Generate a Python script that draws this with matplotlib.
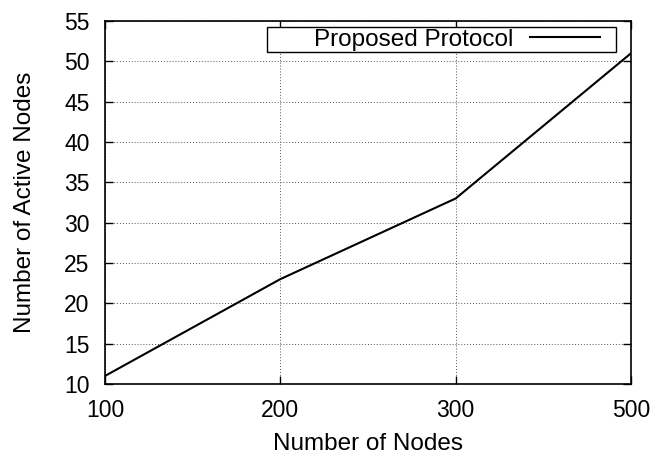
import matplotlib
matplotlib.use("Agg")
import matplotlib.pyplot as plt
from matplotlib.patches import Rectangle

# data
node_labels = ["100", "200", "300", "500"]
active_nodes = [11, 23, 33, 51]
series_name = "Proposed Protocol"

plt.rcParams["font.family"] = ["Liberation Sans", "DejaVu Sans"]

fig = plt.figure(figsize=(6.51, 4.54), dpi=100)
ax = fig.add_axes([0.1613, 0.1542, 0.808, 0.7996])

xs = list(range(len(node_labels)))
ax.plot(xs, active_nodes, color="black", linewidth=1.5, label=series_name)

ax.set_xlim(0, len(node_labels) - 1)
ax.set_ylim(10, 55)
ax.set_xticks(xs)
ax.set_xticklabels(node_labels)
ax.set_yticks(range(10, 56, 5))

ax.tick_params(direction="in", length=6, width=1, labelsize=16.5,
               top=True, right=True)
ax.tick_params(axis="x", pad=11)
ax.tick_params(axis="y", pad=11)
for sp in ax.spines.values():
    sp.set_linewidth(1.2)

ax.grid(True, color="#555555", linestyle=(0, (1, 2)), linewidth=0.7)

ax.set_xlabel("Number of Nodes", fontsize=17.5, labelpad=8)
ax.set_ylabel("Number of Active Nodes", fontsize=17.5, labelpad=20)

# gnuplot style key: box drawn by hand, text left of the line sample
ax.add_patch(Rectangle((0.308, 0.9146), 0.6635, 0.0689, transform=ax.transAxes,
                       facecolor="white", edgecolor="black", linewidth=1.0,
                       zorder=4))
leg = ax.legend(loc="center right", bbox_to_anchor=(0.941, 0.948), fontsize=17.5,
                markerfirst=False, frameon=False, handlelength=2.88,
                handletextpad=0.7, borderpad=0, borderaxespad=0)
leg.set_zorder(5)

fig.savefig("out.png", dpi=100)
